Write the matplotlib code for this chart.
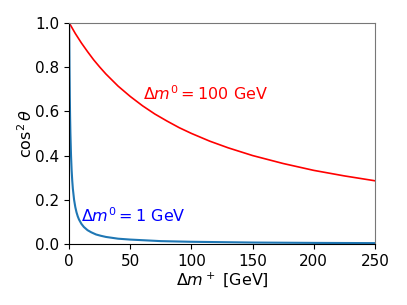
# Mixing angle vs charged mass splitting
import matplotlib.pyplot as plt

# values
dm_plus_100 = [0, 5, 10, 15, 20, 25, 30, 40, 50, 60, 70, 80, 90, 100, 115, 130, 150,
               175, 200, 225, 250]
cos2_100    = [1.0, 0.952, 0.909, 0.870, 0.833, 0.800, 0.769, 0.714, 0.667, 0.625,
               0.588, 0.556, 0.526, 0.5, 0.465, 0.435, 0.4, 0.364, 0.333, 0.308, 0.286]

dm_plus_1 = [0, 0.25, 0.5, 0.75, 1, 1.5, 2, 2.5, 3, 4, 5, 6, 7, 8, 10, 12, 15, 18, 22,
             26, 30, 40, 50, 75, 100, 150, 200, 250]
cos2_1    = [1.0, 0.8, 0.667, 0.571, 0.5, 0.4, 0.333, 0.286, 0.25, 0.2, 0.167, 0.143,
             0.125, 0.111, 0.091, 0.077, 0.0625, 0.053, 0.043, 0.037, 0.032, 0.024,
             0.020, 0.013, 0.010, 0.0066, 0.005, 0.004]

fig = plt.figure(figsize=(4.07, 3.05), dpi=100)
ax = fig.add_axes([0.170, 0.200, 0.751, 0.725])

ax.plot(dm_plus_100, cos2_100, color="red", linewidth=1.2)
ax.plot(dm_plus_1, cos2_1, color="#1f77b4", linewidth=1.5)

ax.text(60, 0.65, r"$\Delta m^0 = 100$ GeV", color="red", fontsize=11.5)
ax.text(10, 0.1, r"$\Delta m^0 = 1$ GeV", color="blue", fontsize=11.5)

ax.set_xlim(0, 250)
ax.set_ylim(0, 1)
ax.set_xticks([0, 50, 100, 150, 200, 250])
ax.set_yticks([0.0, 0.2, 0.4, 0.6, 0.8, 1.0])
ax.set_xlabel(r"$\Delta m^+$ [GeV]", fontsize=11.5, labelpad=1)
ax.set_ylabel(r"$\cos^2\theta$", fontsize=11.5, labelpad=0)
ax.tick_params(labelsize=11)
for side in ("top", "right"):
    ax.spines[side].set_edgecolor("#777777")

fig.savefig("out.png", dpi=100)
